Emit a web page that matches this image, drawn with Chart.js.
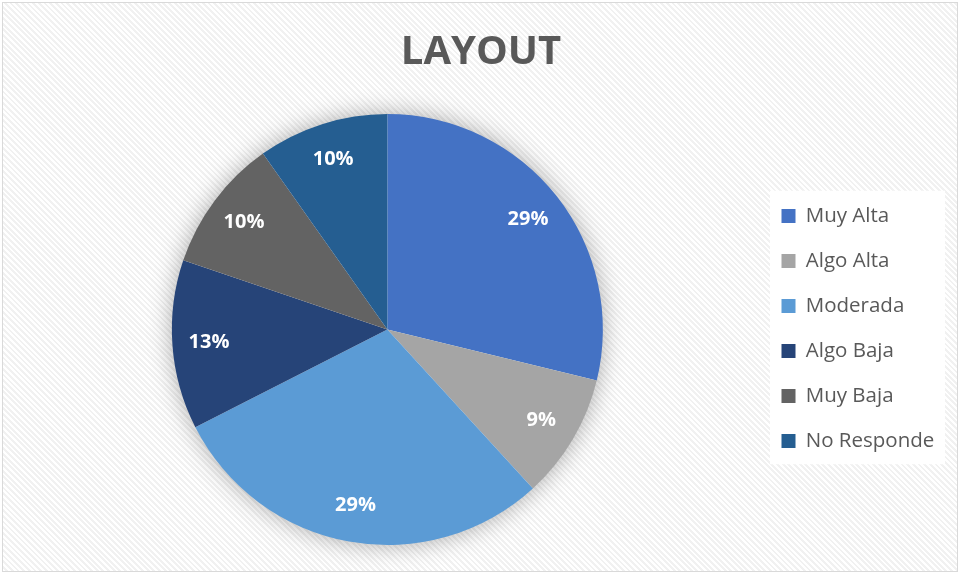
<!DOCTYPE html>
<html>
<head>
<meta charset="utf-8">
<script src="https://cdn.jsdelivr.net/npm/chart.js@4.4.1/dist/chart.umd.min.js"></script>
<style>
  html, body { margin: 0; padding: 0; background: #fff; }
  #wrap {
    position: absolute; left: 2px; top: 2px; width: 954px; height: 568px;
    border: 1px solid #d9d9d9;
    background: repeating-linear-gradient(45deg, #ffffff 0px, #ffffff 2px, #f1f1f1 2px, #f1f1f1 4px);
  }
  canvas { display: block; }
</style>
</head>
<body>
<div id="wrap"><canvas id="pieChart" width="954" height="568"></canvas></div>
<script>
// chart data
const categories = ['Muy Alta', 'Algo Alta', 'Moderada', 'Algo Baja', 'Muy Baja', 'No Responde'];
const shares = [28.8, 9.4, 29.3, 12.7, 10.0, 9.8];
const colors = ['#4472C4', '#A5A5A5', '#5B9BD5', '#264478', '#636363', '#255E91'];

// move legend to where the original has it
const placeBoxes = {
    id: 'placeBoxes',
    afterLayout(chart) {
        const lg = chart.legend, ca = chart.chartArea;
        const w = lg.right - lg.left;
        lg.left = 754; lg.right = lg.left + w;
        lg.top = ca.top - 1; lg.bottom = ca.bottom - 1;
    }
};

// soft shadow under the whole pie
const pieShadow = {
    id: 'pieShadow',
    beforeDatasetsDraw(chart) {
        const arc = chart.getDatasetMeta(0).data[0];
        if (!arc) return;
        const ctx = chart.ctx;
        ctx.save();
        ctx.shadowColor = 'rgba(0,0,0,0.35)';
        ctx.shadowBlur = 24;
        ctx.fillStyle = '#ffffff';
        ctx.beginPath();
        ctx.arc(arc.x, arc.y, arc.outerRadius - 1, 0, Math.PI * 2);
        ctx.fill();
        ctx.restore();
    }
};

// percent labels inside the slices
const sliceLabels = {
    id: 'sliceLabels',
    afterDatasetsDraw(chart) {
        const ctx = chart.ctx;
        const total = shares.reduce((a, b) => a + b, 0);
        ctx.save();
        ctx.fillStyle = '#ffffff';
        ctx.font = 'bold 20px "Open Sans"';
        ctx.textAlign = 'center';
        ctx.textBaseline = 'middle';
        chart.getDatasetMeta(0).data.forEach((arc, i) => {
            const mid = (arc.startAngle + arc.endAngle) / 2;
            const r = arc.outerRadius * 0.83;
            const pct = Math.round(shares[i] / total * 100) + '%';
            ctx.fillText(pct, arc.x + Math.cos(mid) * r, arc.y + Math.sin(mid) * r);
        });
        ctx.restore();
    }
};

// white box behind legend
const legendBox = {
    id: 'legendBox',
    beforeDraw(chart) {
        const lg = chart.legend;
        if (!lg || !lg.legendHitBoxes.length) return;
        const hb = lg.legendHitBoxes;
        const first = hb[0], last = hb[hb.length - 1];
        const ctx = chart.ctx;
        ctx.save();
        ctx.fillStyle = '#ffffff';
        ctx.fillRect(lg.left + 13, first.top - 15, 175, last.top + last.height - first.top + 28);
        ctx.restore();
    }
};

new Chart(document.getElementById('pieChart'), {
    type: 'pie',
    data: {
        labels: categories,
        datasets: [{
            data: shares,
            backgroundColor: colors,
            borderWidth: 0
        }]
    },
    plugins: [placeBoxes, pieShadow, legendBox, sliceLabels],
    options: {
        responsive: false,
        animation: false,
        layout: { padding: { left: 14, right: 12, top: 0, bottom: 26 } },
        plugins: {
            tooltip: { enabled: false },
            title: {
                display: true,
                text: 'LAYOUT',
                color: '#595959',
                font: { family: 'Open Sans', size: 40, weight: 'bold' },
                padding: { top: 26, bottom: 37 }
            },
            legend: {
                position: 'right',
                labels: {
                    color: '#595959',
                    font: { family: 'Open Sans', size: 20.5 },
                    boxWidth: 14,
                    boxHeight: 14,
                    padding: 24.5
                }
            }
        }
    }
});
</script>
</body>
</html>
